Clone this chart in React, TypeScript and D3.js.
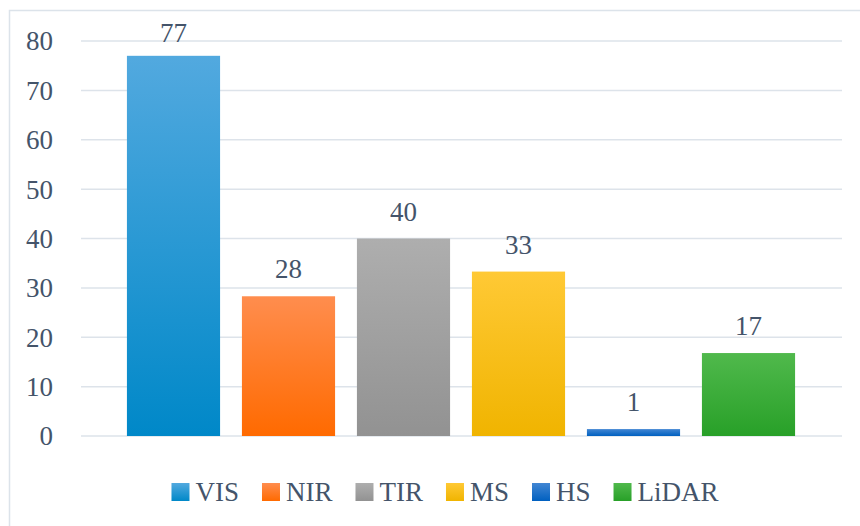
import React from "react";
import * as d3 from "d3";

const categories = ["VIS", "NIR", "TIR", "MS", "HS", "LiDAR"];
const values = [77, 28.3, 40, 33.3, 1.4, 16.8];
const yTicks = [0, 10, 20, 30, 40, 50, 60, 70, 80];
const topColors = ["#52a9df", "#ff8d4e", "#aeaeae", "#ffc935", "#4286d3", "#50b94c"];
const bottomColors = ["#0088c8", "#ff6a00", "#929292", "#f0b400", "#0060c0", "#28a028"];

const W = 860;
const H = 526;
const FONT = '"Liberation Serif", "Times New Roman", "DejaVu Serif", serif';
const TEXT = "#44546a";

function measure(text: string, size: number): number {
  const c = document.createElement("canvas");
  const ctx = c.getContext("2d");
  if (!ctx) return text.length * size * 0.55;
  ctx.font = `${size}px ${FONT}`;
  return ctx.measureText(text).width;
}

export default function App() {
  const y = d3.scaleLinear().domain([0, 80]).range([436, 41]);
  const x = d3
    .scaleBand<string>()
    .domain(categories)
    .range([116, 806])
    .paddingInner(0.19)
    .paddingOuter(0.095);
  const gridX0 = 81;
  const gridX1 = 842;
  const fmt = d3.format(".0f");

  const fs = 27;
  const sq = 18;
  const widths = categories.map((c) => measure(c, fs));
  const itemW = widths.map((w) => sq + 6 + w);
  const gap = 23;
  const total = d3.sum(itemW) + gap * (categories.length - 1);
  let cx = 445 - total / 2;
  const legendPos = itemW.map((w) => {
    const p = cx;
    cx += w + gap;
    return p;
  });
  const legendY = 492;
  const textStyle = { fontFamily: FONT, fontSize: fs, fill: TEXT } as React.CSSProperties;

  return (
    <svg
      width={W}
      height={H}
      style={{ position: "absolute", left: 0, top: 0, background: "#fff", fontFamily: FONT }}
    >
      <defs>
        {categories.map((c, i) => (
          <linearGradient key={c} id={`g${i}`} x1="0" y1="0" x2="0" y2="1">
            <stop offset="0%" stopColor={topColors[i]} />
            <stop offset="100%" stopColor={bottomColors[i]} />
          </linearGradient>
        ))}
      </defs>
      <rect x={9.5} y={10.5} width={W + 20} height={H + 20} fill="none" stroke="#dce3ea" strokeWidth={1.5} />
      {yTicks.map((t) => (
        <g key={t}>
          <line x1={gridX0} x2={gridX1} y1={y(t)} y2={y(t)} stroke="#dde3ea" strokeWidth={1.5} />
          <text x={53} y={y(t)} dy="0.35em" textAnchor="end" style={textStyle}>
            {t}
          </text>
        </g>
      ))}
      {categories.map((c, i) => (
        <g key={c}>
          <rect
            x={x(c)}
            y={y(values[i])}
            width={x.bandwidth()}
            height={y(0) - y(values[i])}
            fill={`url(#g${i})`}
          />
          <text
            x={(x(c) as number) + x.bandwidth() / 2}
            y={Math.max(y(values[i]) - 18, 42)}
            textAnchor="middle"
            style={textStyle}
          >
            {fmt(values[i])}
          </text>
        </g>
      ))}
      {categories.map((c, i) => (
        <g key={c} transform={`translate(${legendPos[i]},${legendY})`}>
          <rect x={0} y={-sq / 2} width={sq} height={sq} fill={`url(#g${i})`} />
          <text x={sq + 6} y={0} dy="0.35em" style={textStyle}>
            {c}
          </text>
        </g>
      ))}
    </svg>
  );
}
